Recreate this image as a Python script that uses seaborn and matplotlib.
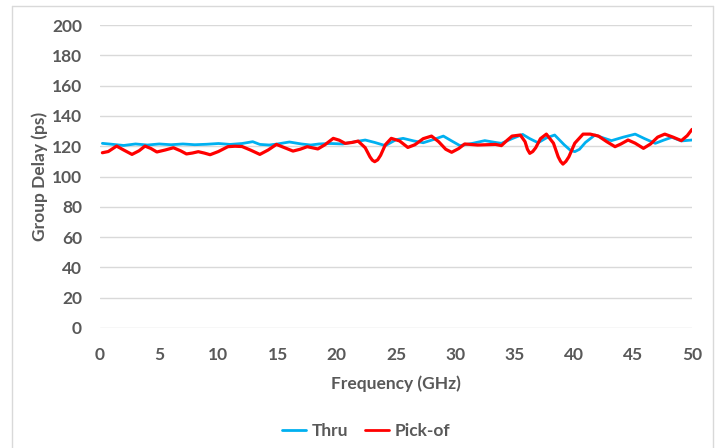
import matplotlib
matplotlib.use("Agg")
import matplotlib.pyplot as plt
import seaborn as sns
from matplotlib.lines import Line2D

# Group delay (GHz, ps)
thru_freq = [0.2, 1.0, 2.0, 3.0, 4.0, 5.0, 6.0, 7.0, 8.0, 9.0, 10.0, 11.0, 12.0, 12.9,
             13.5, 14.3, 15.0, 16.0, 17.0, 17.8, 18.5, 19.5, 20.5, 21.2, 22.4, 23.2,
             24.1, 25.0, 25.6, 26.5, 27.3, 28.2, 29.0, 29.7, 30.4, 31.4, 32.5, 33.4,
             33.9, 34.8, 35.7, 36.3, 37.0, 37.7, 38.4, 39.2, 39.7, 40.1, 40.5, 41.0,
             41.8, 42.5, 43.2, 44.2, 45.2, 46.0, 46.9, 47.6, 48.3, 49.1, 50.0]
thru_delay = [121.9, 121.3, 120.5, 121.5, 120.8, 121.5, 121.0, 121.5, 121.0, 121.3,
              121.8, 121.2, 121.8, 123.0, 121.2, 120.8, 121.5, 122.8, 121.5, 120.8,
              121.5, 121.8, 121.5, 122.5, 124.1, 122.5, 120.4, 124.3, 125.2, 123.5,
              122.3, 124.5, 126.7, 123.5, 120.4, 121.8, 123.7, 122.5, 121.9, 125.0,
              127.8, 125.0, 122.3, 125.5, 127.4, 121.0, 117.5, 116.4, 118.0, 122.5,
              127.4, 125.5, 123.7, 126.0, 128.0, 125.0, 121.9, 124.0, 125.9, 123.5, 124.1]

pick_freq = [0.2, 0.7, 1.4, 2.0, 2.7, 3.3, 3.8, 4.3, 4.8, 5.5, 6.2, 6.8, 7.3, 7.8, 8.3,
             8.8, 9.3, 10.0, 10.8, 11.4, 12.0, 12.7, 13.5, 14.2, 14.9, 15.6, 16.3,
             16.9, 17.5, 18.4, 19.0, 19.7, 20.2, 20.7, 21.3, 21.8, 22.4, 22.6, 22.8,
             23.0, 23.2, 23.45, 23.7, 23.9, 24.1, 24.6, 25.3, 26.0, 26.6, 27.3, 28.0,
             28.6, 29.2, 29.7, 30.3, 30.8, 31.9, 33.4, 33.9, 34.4, 34.8, 35.5, 35.9,
             36.1, 36.3, 36.55, 36.8, 37.2, 37.7, 38.3, 38.5, 38.7, 38.9, 39.1, 39.35,
             39.6, 39.85, 40.1, 40.8, 41.4, 42.1, 42.8, 43.5, 44.0, 44.6, 45.2, 45.9,
             46.5, 47.1, 47.7, 48.4, 49.1, 49.6, 50.0]
pick_delay = [115.7, 116.5, 120.1, 117.5, 114.6, 117.0, 120.1, 118.5, 116.2, 117.5,
              119.0, 117.0, 114.9, 115.5, 116.4, 115.5, 114.4, 116.5, 119.7, 120.0,
              119.8, 117.5, 114.6, 117.5, 121.2, 119.0, 116.8, 118.0, 119.7, 118.2,
              121.0, 125.2, 124.0, 121.9, 122.5, 123.4, 119.0, 116.0, 113.0, 110.8,
              109.8, 111.0, 114.0, 117.5, 121.0, 125.2, 123.5, 119.2, 121.0, 125.0,
              126.7, 123.0, 118.0, 116.0, 118.5, 121.5, 120.8, 121.2, 120.4, 124.0,
              126.7, 127.4, 123.0, 118.0, 115.3, 116.5, 119.0, 125.0, 128.0, 122.0,
              117.5, 113.0, 110.0, 108.2, 110.0, 113.0, 117.5, 122.0, 128.0, 128.0,
              126.7, 123.0, 119.7, 121.5, 124.1, 122.0, 118.6, 121.5, 126.0, 128.0,
              126.0, 123.7, 127.0, 131.1]

x_ticks = list(range(0, 51, 5))
y_ticks = list(range(0, 201, 20))

sns.set_theme(style="whitegrid")
plt.rcParams['font.family'] = ['Lato', 'DejaVu Sans']
text_color = '#595959'
thru_color = '#00B0F0'
pick_color = '#FF0000'

fig = plt.figure(figsize=(7.2, 4.48), dpi=100)
ax = fig.add_axes([0.1389, 0.268, 0.8222, 0.676])

sns.lineplot(x=thru_freq, y=thru_delay, ax=ax, color=thru_color, linewidth=2.0, sort=False)
sns.lineplot(x=pick_freq, y=pick_delay, ax=ax, color=pick_color, linewidth=2.3, sort=False)

ax.set_xlim(0, 50)
ax.set_ylim(0, 200)
ax.set_xticks(x_ticks)
ax.set_yticks(y_ticks)
ax.grid(axis='y', color='#d9d9d9', linewidth=1)
ax.grid(axis='x', visible=False)
for s in ax.spines.values():
    s.set_visible(False)
ax.tick_params(axis='both', length=0, labelsize=12.5, labelcolor=text_color)
ax.tick_params(axis='y', pad=13)
ax.tick_params(axis='x', pad=14)
for lab in ax.get_xticklabels() + ax.get_yticklabels():
    lab.set_fontweight('bold')

ax.set_xlabel('Frequency (GHz)', fontsize=12.5, fontweight='bold', color=text_color, labelpad=9)
ax.set_ylabel('Group Delay (ps)', fontsize=12.5, fontweight='bold', color=text_color, labelpad=3)

handles = [Line2D([0], [0], color=thru_color, linewidth=2),
           Line2D([0], [0], color=pick_color, linewidth=2)]
leg = fig.legend(handles, ['Thru', 'Pick-of'], loc='center', bbox_to_anchor=(366 / 720, 1 - 431 / 448),
                 ncol=2, frameon=False, handlelength=1.4, handletextpad=0.3, columnspacing=1.0,
                 prop={'size': 12.5, 'weight': 'bold'})
for t in leg.get_texts():
    t.set_color(text_color)

# chart border (light gray frame as in the source)
x0, x1 = 11.5 / 720, 713 / 720
y0, y1 = 0.0, 1 - 6 / 448
for xs, ys in [([x0, x1], [y1, y1]), ([x0, x0], [y0, y1]), ([x1, x1], [y0, y1])]:
    fig.add_artist(Line2D(xs, ys, transform=fig.transFigure, color='#d9d9d9', linewidth=1))

fig.savefig('out.png', dpi=100)
